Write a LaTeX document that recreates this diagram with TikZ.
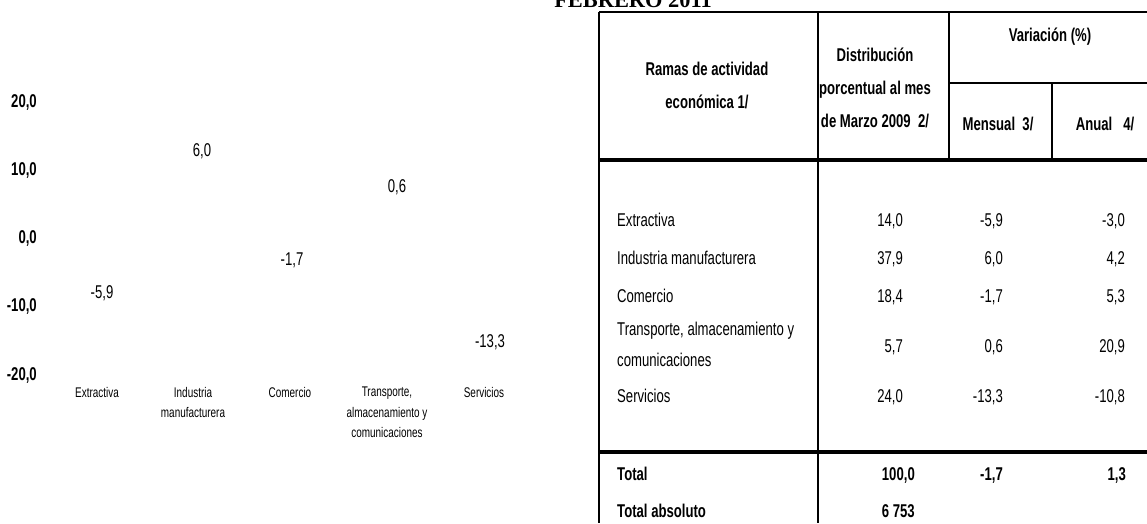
\documentclass[tikz,border=0pt]{standalone}
\usepackage{fontspec}
\setmainfont{Liberation Sans}[FakeStretch=0.71]
\newfontfamily\titlefont{Liberation Serif}

\begin{document}
\begin{tikzpicture}[x=1pt,y=-1pt,line join=round,
    rule/.style={line width=2.2pt},
    bigrule/.style={line width=3.6pt},
    txt/.style={inner sep=0pt,font=\fontsize{18.5}{21}\selectfont},
    bold/.style={inner sep=0pt,font=\fontsize{18.5}{21}\selectfont\bfseries},
    head/.style={inner sep=0pt,align=center,font=\fontsize{18.5}{33}\selectfont\bfseries},
    cat/.style={inner sep=0pt,align=center,font=\fontsize{14}{20.5}\selectfont}]
    \useasboundingbox (0,0) rectangle (1147,523);

    % titulo (cortado arriba)
    \node[anchor=base,inner sep=0pt,font=\titlefont\bfseries\fontsize{22.4}{24}\selectfont] (titulo) at (633,7) {FEBRERO 2011};

    % grafico: eje y
    \foreach \v [count=\i] in {20,10,0,-10,-20}
        \node[bold,anchor=east] (eje\i) at (37,{102+68.25*(\i-1)}) {\v,0};

    % grafico: valores
    \node[txt] (dato1) at (102,293) {-5,9};
    \node[txt] (dato2) at (202,151) {6,0};
    \node[txt] (dato3) at (292,260) {-1,7};
    \node[txt] (dato4) at (397,187) {0,6};
    \node[txt] (dato5) at (490,342) {-13,3};

    % grafico: categorias
    \node[cat,anchor=north] (cat1) at (97,387) {Extractiva};
    \node[cat,anchor=north] (cat2) at (193,387) {Industria\\manufacturera};
    \node[cat,anchor=north] (cat3) at (290,387) {Comercio};
    \node[cat,anchor=north] (cat4) at (387,387) {Transporte,\\almacenamiento y\\comunicaciones};
    \node[cat,anchor=north] (cat5) at (484,387) {Servicios};

    % tabla: lineas
    \draw[rule] (599,12) -- (1147,12);
    \draw[rule] (599,12) -- (599,523);
    \draw[rule] (818,12) -- (818,523);
    \draw[rule] (949,12) -- (949,160);
    \draw[rule] (949,83) -- (1147,83);
    \draw[rule] (1052,83) -- (1052,160);
    \draw[bigrule] (599,160) -- (1147,160);
    \draw[bigrule] (599,452) -- (1147,452);

    % tabla: encabezado
    \node[head] (ramas) at (707,85) {Ramas de actividad\\económica 1/};
    \node[head] (distr) at (875,88) {Distribución\\porcentual al mes\\de Marzo 2009\ \ 2/};
    \node[head] (varia) at (1050,37) {Variación (\%)};
    \node[head] (mens) at (998,124) {Mensual\ \ 3/};
    \node[head] (anual) at (1105,124) {Anual\ \ \ 4/};

    % tabla: filas
    \node[txt,anchor=base west] (rama1) at (617,226) {Extractiva};
    \node[txt,anchor=base west] (rama2) at (617,264) {Industria manufacturera};
    \node[txt,anchor=base west] (rama3) at (617,302) {Comercio};
    \node[txt,anchor=base west] (rama4) at (617,335) {Transporte, almacenamiento y};
    \node[txt,anchor=base west] (rama4b) at (617,366) {comunicaciones};
    \node[txt,anchor=base west] (rama5) at (617,402) {Servicios};

    \foreach \yy/\a/\b/\c [count=\i] in {226/{14,0}/{-5,9}/{-3,0},264/{37,9}/{6,0}/{4,2},
        302/{18,4}/{-1,7}/{5,3},352/{5,7}/{0,6}/{20,9},402/{24,0}/{-13,3}/{-10,8}}{
        \node[txt,anchor=base east] (dist\i) at (903,\yy) {\a};
        \node[txt,anchor=base east] (mens\i) at (1003,\yy) {\b};
        \node[txt,anchor=base east] (anual\i) at (1125,\yy) {\c};
    }

    % tabla: totales
    \node[bold,anchor=base west] (total) at (617,480) {Total};
    \node[bold,anchor=base west] (totabs) at (617,517) {Total absoluto};
    \node[bold,anchor=base east] (totdist) at (915,480) {100,0};
    \node[bold,anchor=base east] (totmens) at (1003,480) {-1,7};
    \node[bold,anchor=base east] (totanual) at (1126,480) {1,3};
    \node[bold,anchor=base east] (totabsv) at (915,517) {6 753};
\end{tikzpicture}
\end{document}
